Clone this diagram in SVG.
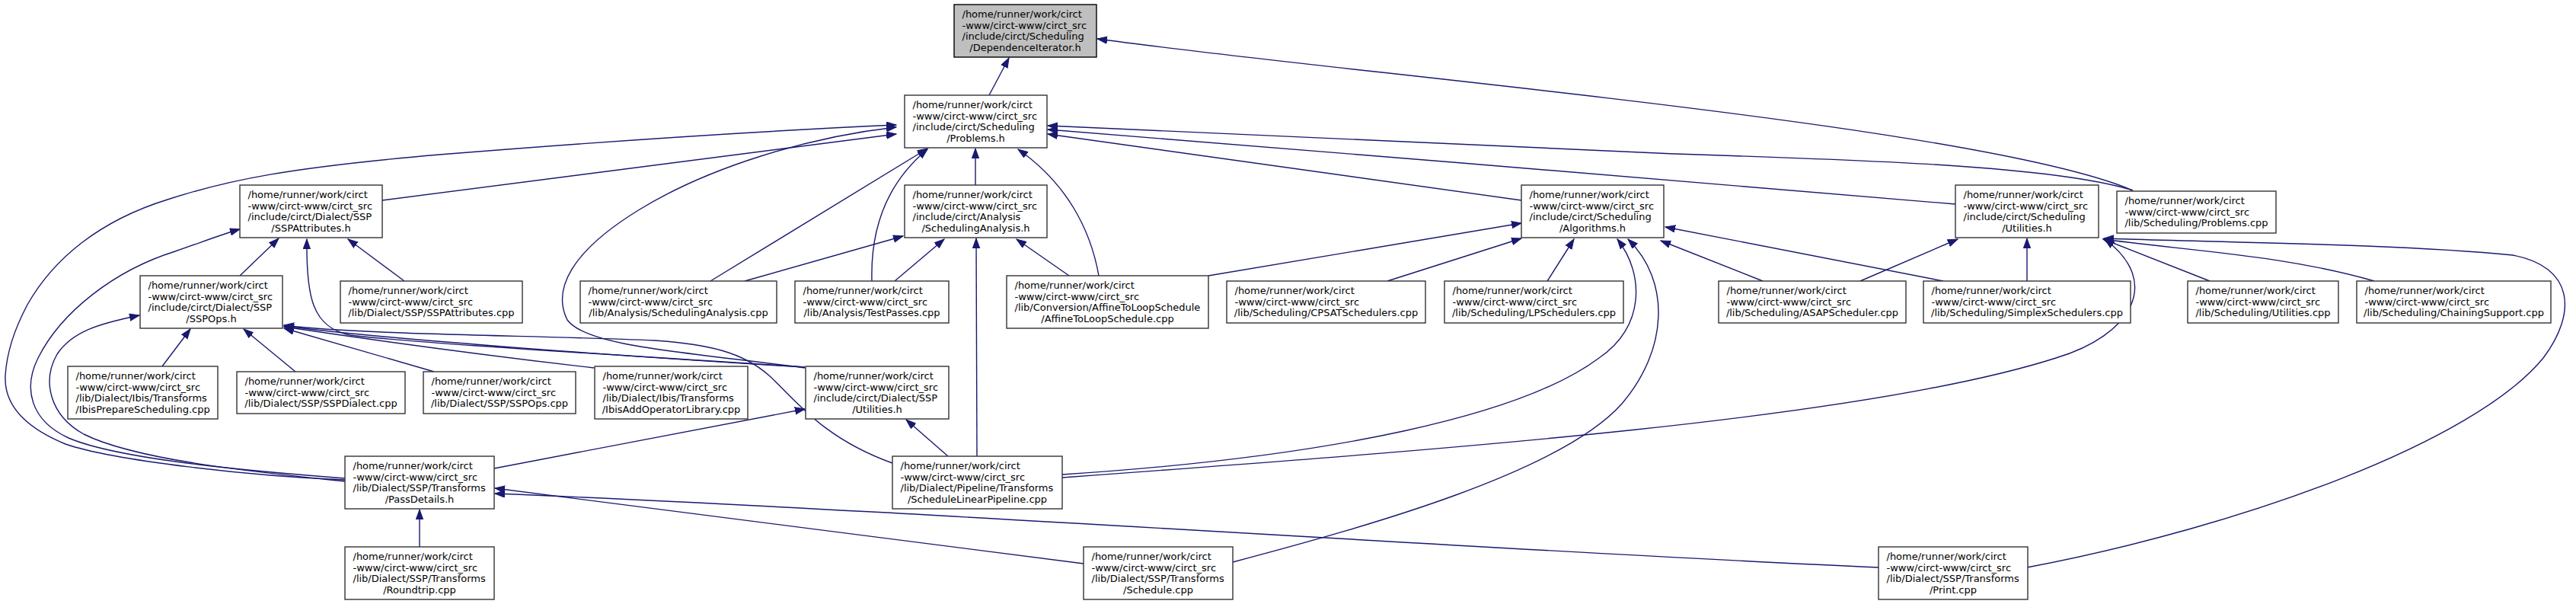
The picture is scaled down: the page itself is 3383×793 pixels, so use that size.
<svg xmlns="http://www.w3.org/2000/svg" width="3383" height="793" viewBox="0 0 3383 793">
<style>
.box{fill:#ffffff;stroke:#333333;stroke-width:1.4}
.root{fill:#bfbfbf;stroke:#000000;stroke-width:1.4}
text{font-family:"DejaVu Sans","Liberation Sans",sans-serif;font-size:13px;fill:#000000}
.c{text-anchor:middle}
.e{fill:none;stroke:#191970;stroke-width:1.4;marker-end:url(#arr)}
</style>
<defs>
<marker id="arr" markerUnits="userSpaceOnUse" markerWidth="15" markerHeight="11" refX="13" refY="5" orient="auto" viewBox="0 0 15 11">
<path d="M0,0.3 L13,5 L0,9.7 Z" fill="#191970" stroke="#191970" stroke-width="1"/>
</marker>
</defs>
<rect width="3383" height="793" fill="#ffffff"/>
<g id="edges">
<path class="e" d="M1299,125 L1325,76"/>
<path class="e" d="M2801,250 C2600,165 1800,100 1441,51"/>
<path class="e" d="M2801,250 C2700,218 2450,210 2200,202 C1900,190 1600,175 1376,165"/>
<path class="e" d="M2568,268 C2400,254 1700,195 1376,170"/>
<path class="e" d="M1998,263 L1376,176"/>
<path class="e" d="M1281,243 L1281,195"/>
<path class="e" d="M1443,362 C1432,300 1400,240 1337,196"/>
<path class="e" d="M933,369 L1218,195"/>
<path class="e" d="M1145,369 C1143,300 1165,240 1218,196"/>
<path class="e" d="M502,263 L1177,176"/>
<path class="e" d="M453,630 C330,625 150,605 86,583 C30,560 5,530 7,493 C9,460 20,430 36,400 C70,340 130,290 220,262 C300,236 380,220 577,203 C800,185 1000,172 1177,164"/>
<path class="e" d="M1057,483 C900,462 770,455 745,420 C725,380 750,330 840,275 C930,220 1060,180 1177,167"/>
<path class="e" d="M315,362 L366,313"/>
<path class="e" d="M531,369 L457,314"/>
<path class="e" d="M453,628 C350,620 160,605 90,575 C40,552 30,510 50,470 C80,410 150,355 230,330 C265,318 290,308 315,301"/>
<path class="e" d="M1057,482 C850,468 560,452 460,440 C410,430 402,390 403,314"/>
<path class="e" d="M213,481 L250,432"/>
<path class="e" d="M388,488 L320,432"/>
<path class="e" d="M570,488 L373,431"/>
<path class="e" d="M780,483 C650,468 480,445 373,429"/>
<path class="e" d="M1057,482 C850,470 500,445 373,428"/>
<path class="e" d="M1172,608 C1080,575 1045,525 1010,493 C975,462 930,452 860,447 C700,440 480,440 373,427"/>
<path class="e" d="M453,632 C340,620 180,605 110,570 C65,545 55,500 75,465 C95,435 130,425 183,414"/>
<path class="e" d="M978,369 L1186,310"/>
<path class="e" d="M1175,369 L1240,314"/>
<path class="e" d="M1404,362 L1335,314"/>
<path class="e" d="M1283,599 L1282,313"/>
<path class="e" d="M1587,362 L1998,293"/>
<path class="e" d="M1822,369 L1998,313"/>
<path class="e" d="M2032,369 L2067,314"/>
<path class="e" d="M1395,623 C1750,600 2000,545 2100,470 C2160,430 2160,360 2124,314"/>
<path class="e" d="M1619,738 C1800,690 2050,620 2130,530 C2190,460 2195,370 2138,314"/>
<path class="e" d="M2315,369 L2181,316"/>
<path class="e" d="M2552,369 L2187,298"/>
<path class="e" d="M2443,369 L2571,314"/>
<path class="e" d="M2662,369 L2662,313"/>
<path class="e" d="M2902,369 L2762,314"/>
<path class="e" d="M3118,369 C3000,335 2880,330 2762,314"/>
<path class="e" d="M2662,745 C2950,690 3250,580 3340,470 C3385,410 3380,350 3300,335 C3150,320 2900,318 2763,313"/>
<path class="e" d="M1395,627 C1900,590 2450,550 2700,470 C2800,440 2840,370 2764,314"/>
<path class="e" d="M649,615 L1057,537"/>
<path class="e" d="M1245,599 L1190,551"/>
<path class="e" d="M551,718 L551,669"/>
<path class="e" d="M1423,740 L650,641"/>
<path class="e" d="M2467,745 C2000,725 1200,670 650,648"/>
</g>
<g id="n_dependenceiterator_h">
<rect class="root" x="1253" y="6" width="187" height="69"/>
<text x="1263.5" y="23">/home/runner/work/circt</text>
<text x="1263.5" y="37.7">-www/circt-www/circt_src</text>
<text x="1263.5" y="52.4">/include/circt/Scheduling</text>
<text class="c" x="1346.5" y="67.1">/DependenceIterator.h</text>
</g>
<g id="n_problems_h">
<rect class="box" x="1188" y="125" width="187" height="69"/>
<text x="1198.5" y="142">/home/runner/work/circt</text>
<text x="1198.5" y="156.7">-www/circt-www/circt_src</text>
<text x="1198.5" y="171.4">/include/circt/Scheduling</text>
<text class="c" x="1281.5" y="186.1">/Problems.h</text>
</g>
<g id="n_schedulinganalysis_h">
<rect class="box" x="1188" y="243" width="187" height="69"/>
<text x="1198.5" y="260">/home/runner/work/circt</text>
<text x="1198.5" y="274.7">-www/circt-www/circt_src</text>
<text x="1198.5" y="289.4">/include/circt/Analysis</text>
<text class="c" x="1281.5" y="304.1">/SchedulingAnalysis.h</text>
</g>
<g id="n_algorithms_h">
<rect class="box" x="1998" y="243" width="187" height="69"/>
<text x="2008.5" y="260">/home/runner/work/circt</text>
<text x="2008.5" y="274.7">-www/circt-www/circt_src</text>
<text x="2008.5" y="289.4">/include/circt/Scheduling</text>
<text class="c" x="2091.5" y="304.1">/Algorithms.h</text>
</g>
<g id="n_scheduling_utilities_h">
<rect class="box" x="2568" y="243" width="188" height="69"/>
<text x="2578.5" y="260">/home/runner/work/circt</text>
<text x="2578.5" y="274.7">-www/circt-www/circt_src</text>
<text x="2578.5" y="289.4">/include/circt/Scheduling</text>
<text class="c" x="2662" y="304.1">/Utilities.h</text>
</g>
<g id="n_problems_cpp">
<rect class="box" x="2780" y="251" width="209" height="55"/>
<text x="2790.5" y="268">/home/runner/work/circt</text>
<text x="2790.5" y="282.7">-www/circt-www/circt_src</text>
<text class="c" x="2884.5" y="297.4">/lib/Scheduling/Problems.cpp</text>
</g>
<g id="n_sspattributes_h">
<rect class="box" x="315" y="243" width="187" height="69"/>
<text x="325.5" y="260">/home/runner/work/circt</text>
<text x="325.5" y="274.7">-www/circt-www/circt_src</text>
<text x="325.5" y="289.4">/include/circt/Dialect/SSP</text>
<text class="c" x="408.5" y="304.1">/SSPAttributes.h</text>
</g>
<g id="n_sspops_h">
<rect class="box" x="184" y="362" width="187" height="69"/>
<text x="194.5" y="379">/home/runner/work/circt</text>
<text x="194.5" y="393.7">-www/circt-www/circt_src</text>
<text x="194.5" y="408.4">/include/circt/Dialect/SSP</text>
<text class="c" x="277.5" y="423.1">/SSPOps.h</text>
</g>
<g id="n_sspattributes_cpp">
<rect class="box" x="447" y="369" width="239" height="55"/>
<text x="457.5" y="386">/home/runner/work/circt</text>
<text x="457.5" y="400.7">-www/circt-www/circt_src</text>
<text class="c" x="566.5" y="415.4">/lib/Dialect/SSP/SSPAttributes.cpp</text>
</g>
<g id="n_schedulinganalysis_cpp">
<rect class="box" x="762" y="369" width="258" height="55"/>
<text x="772.5" y="386">/home/runner/work/circt</text>
<text x="772.5" y="400.7">-www/circt-www/circt_src</text>
<text class="c" x="891" y="415.4">/lib/Analysis/SchedulingAnalysis.cpp</text>
</g>
<g id="n_testpasses_cpp">
<rect class="box" x="1044" y="369" width="202" height="55"/>
<text x="1054.5" y="386">/home/runner/work/circt</text>
<text x="1054.5" y="400.7">-www/circt-www/circt_src</text>
<text class="c" x="1145" y="415.4">/lib/Analysis/TestPasses.cpp</text>
</g>
<g id="n_affinetoloopschedule_cpp">
<rect class="box" x="1322" y="362" width="265" height="69"/>
<text x="1332.5" y="379">/home/runner/work/circt</text>
<text x="1332.5" y="393.7">-www/circt-www/circt_src</text>
<text x="1332.5" y="408.4">/lib/Conversion/AffineToLoopSchedule</text>
<text class="c" x="1454.5" y="423.1">/AffineToLoopSchedule.cpp</text>
</g>
<g id="n_cpsatschedulers_cpp">
<rect class="box" x="1611" y="369" width="261" height="55"/>
<text x="1621.5" y="386">/home/runner/work/circt</text>
<text x="1621.5" y="400.7">-www/circt-www/circt_src</text>
<text class="c" x="1741.5" y="415.4">/lib/Scheduling/CPSATSchedulers.cpp</text>
</g>
<g id="n_lpschedulers_cpp">
<rect class="box" x="1897" y="369" width="235" height="55"/>
<text x="1907.5" y="386">/home/runner/work/circt</text>
<text x="1907.5" y="400.7">-www/circt-www/circt_src</text>
<text class="c" x="2014.5" y="415.4">/lib/Scheduling/LPSchedulers.cpp</text>
</g>
<g id="n_asapscheduler_cpp">
<rect class="box" x="2257" y="369" width="246" height="55"/>
<text x="2267.5" y="386">/home/runner/work/circt</text>
<text x="2267.5" y="400.7">-www/circt-www/circt_src</text>
<text class="c" x="2380" y="415.4">/lib/Scheduling/ASAPScheduler.cpp</text>
</g>
<g id="n_simplexschedulers_cpp">
<rect class="box" x="2526" y="369" width="272" height="55"/>
<text x="2536.5" y="386">/home/runner/work/circt</text>
<text x="2536.5" y="400.7">-www/circt-www/circt_src</text>
<text class="c" x="2662" y="415.4">/lib/Scheduling/SimplexSchedulers.cpp</text>
</g>
<g id="n_scheduling_utilities_cpp">
<rect class="box" x="2873" y="369" width="198" height="55"/>
<text x="2883.5" y="386">/home/runner/work/circt</text>
<text x="2883.5" y="400.7">-www/circt-www/circt_src</text>
<text class="c" x="2972" y="415.4">/lib/Scheduling/Utilities.cpp</text>
</g>
<g id="n_chainingsupport_cpp">
<rect class="box" x="3095" y="369" width="255" height="55"/>
<text x="3105.5" y="386">/home/runner/work/circt</text>
<text x="3105.5" y="400.7">-www/circt-www/circt_src</text>
<text class="c" x="3222.5" y="415.4">/lib/Scheduling/ChainingSupport.cpp</text>
</g>
<g id="n_ibispreparescheduling_cpp">
<rect class="box" x="89" y="481" width="197" height="69"/>
<text x="99.5" y="498">/home/runner/work/circt</text>
<text x="99.5" y="512.7">-www/circt-www/circt_src</text>
<text x="99.5" y="527.4">/lib/Dialect/Ibis/Transforms</text>
<text class="c" x="187.5" y="542.1">/IbisPrepareScheduling.cpp</text>
</g>
<g id="n_sspdialect_cpp">
<rect class="box" x="311" y="488" width="221" height="55"/>
<text x="321.5" y="505">/home/runner/work/circt</text>
<text x="321.5" y="519.7">-www/circt-www/circt_src</text>
<text class="c" x="421.5" y="534.4">/lib/Dialect/SSP/SSPDialect.cpp</text>
</g>
<g id="n_sspops_cpp">
<rect class="box" x="556" y="488" width="200" height="55"/>
<text x="566.5" y="505">/home/runner/work/circt</text>
<text x="566.5" y="519.7">-www/circt-www/circt_src</text>
<text class="c" x="656" y="534.4">/lib/Dialect/SSP/SSPOps.cpp</text>
</g>
<g id="n_ibisaddoperatorlibrary_cpp">
<rect class="box" x="781" y="481" width="201" height="69"/>
<text x="791.5" y="498">/home/runner/work/circt</text>
<text x="791.5" y="512.7">-www/circt-www/circt_src</text>
<text x="791.5" y="527.4">/lib/Dialect/Ibis/Transforms</text>
<text class="c" x="881.5" y="542.1">/IbisAddOperatorLibrary.cpp</text>
</g>
<g id="n_ssp_utilities_h">
<rect class="box" x="1058" y="481" width="188" height="69"/>
<text x="1068.5" y="498">/home/runner/work/circt</text>
<text x="1068.5" y="512.7">-www/circt-www/circt_src</text>
<text x="1068.5" y="527.4">/include/circt/Dialect/SSP</text>
<text class="c" x="1152" y="542.1">/Utilities.h</text>
</g>
<g id="n_passdetails_h">
<rect class="box" x="453" y="599" width="196" height="69"/>
<text x="463.5" y="616">/home/runner/work/circt</text>
<text x="463.5" y="630.7">-www/circt-www/circt_src</text>
<text x="463.5" y="645.4">/lib/Dialect/SSP/Transforms</text>
<text class="c" x="551" y="660.1">/PassDetails.h</text>
</g>
<g id="n_schedulelinearpipeline_cpp">
<rect class="box" x="1172" y="599" width="223" height="69"/>
<text x="1182.5" y="616">/home/runner/work/circt</text>
<text x="1182.5" y="630.7">-www/circt-www/circt_src</text>
<text x="1182.5" y="645.4">/lib/Dialect/Pipeline/Transforms</text>
<text class="c" x="1283.5" y="660.1">/ScheduleLinearPipeline.cpp</text>
</g>
<g id="n_roundtrip_cpp">
<rect class="box" x="453" y="718" width="196" height="69"/>
<text x="463.5" y="735">/home/runner/work/circt</text>
<text x="463.5" y="749.7">-www/circt-www/circt_src</text>
<text x="463.5" y="764.4">/lib/Dialect/SSP/Transforms</text>
<text class="c" x="551" y="779.1">/Roundtrip.cpp</text>
</g>
<g id="n_schedule_cpp">
<rect class="box" x="1423" y="718" width="196" height="69"/>
<text x="1433.5" y="735">/home/runner/work/circt</text>
<text x="1433.5" y="749.7">-www/circt-www/circt_src</text>
<text x="1433.5" y="764.4">/lib/Dialect/SSP/Transforms</text>
<text class="c" x="1521" y="779.1">/Schedule.cpp</text>
</g>
<g id="n_print_cpp">
<rect class="box" x="2467" y="718" width="196" height="69"/>
<text x="2477.5" y="735">/home/runner/work/circt</text>
<text x="2477.5" y="749.7">-www/circt-www/circt_src</text>
<text x="2477.5" y="764.4">/lib/Dialect/SSP/Transforms</text>
<text class="c" x="2565" y="779.1">/Print.cpp</text>
</g>
</svg>
